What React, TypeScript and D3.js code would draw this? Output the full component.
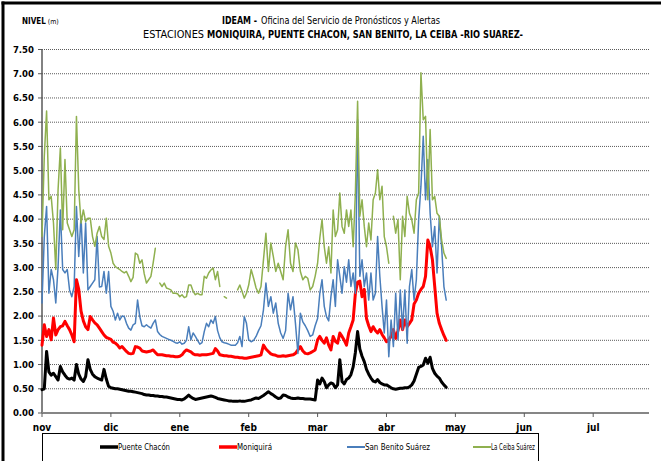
import React from "react";
import * as d3 from "d3";

// ---- data ----
const fechaInicio = new Date(2010, 10, 1); // 1 nov
const meses = ["nov", "dic", "ene", "feb", "mar", "abr", "may", "jun", "jul"];
const nivelTicks = [0, 0.5, 1, 1.5, 2, 2.5, 3, 3.5, 4, 4.5, 5, 5.5, 6, 6.5, 7, 7.5];

const puenteChacon = [
  0.48, 0.50, 1.27, 0.85, 0.78, 0.82, 0.75, 0.68, 0.96, 0.85,
  0.78, 0.72, 0.70, 0.72, 0.68, 1.00, 0.80, 0.70, 0.65, 0.75,
  1.10, 0.90, 0.80, 0.75, 0.72, 0.70, 0.68, 0.90, 0.70, 0.55,
  0.52, 0.51, 0.50, 0.50, 0.49, 0.48, 0.47, 0.46, 0.45, 0.45,
  0.44, 0.43, 0.42, 0.41, 0.40, 0.38, 0.37, 0.37, 0.36, 0.36,
  0.35, 0.35, 0.34, 0.34, 0.33, 0.33, 0.32, 0.31, 0.30, 0.29,
  0.28, 0.28, 0.27, 0.29, 0.33, 0.37, 0.33, 0.30, 0.28, 0.29,
  0.30, 0.31, 0.32, 0.33, 0.34, 0.35, 0.34, 0.32, 0.30, 0.29,
  0.28, 0.27, 0.26, 0.25, 0.25, 0.24, 0.24, 0.24, 0.25, 0.24,
  0.24, 0.25, 0.26, 0.27, 0.29, 0.31, 0.30, 0.33, 0.36, 0.40,
  0.44, 0.40, 0.37, 0.33, 0.30, 0.31, 0.37, 0.36, 0.33, 0.31,
  0.30, 0.30, 0.31, 0.30, 0.30, 0.29, 0.29, 0.29, 0.28, 0.27,
  0.68, 0.60, 0.72, 0.65, 0.52, 0.58, 0.62, 0.60, 0.52, 0.58,
  1.10, 0.65, 0.60, 0.69, 0.72, 0.79, 0.95, 1.25, 1.68, 1.32,
  1.17, 1.06, 0.90, 0.80, 0.72, 0.66, 0.64, 0.69, 0.63, 0.60,
  0.58, 0.58, 0.55, 0.52, 0.50, 0.49, 0.50, 0.51, 0.51, 0.52,
  0.52, 0.54, 0.58, 0.66, 0.80, 0.94, 0.96, 0.99, 1.13, 1.03,
  1.15, 0.92, 0.82, 0.76, 0.72, 0.64, 0.58, 0.53,
];

const moniquira = [
  1.40, 1.82, 1.58, 1.72, 1.51, 1.96, 1.61, 1.72, 1.78, 1.80,
  1.89, 1.80, 1.72, 1.61, 1.47, 2.75, 2.55, 2.10, 1.90, 1.78,
  1.72, 1.99, 1.92, 1.86, 1.82, 1.75, 1.68, 1.61, 1.56, 1.54,
  1.52, 1.46, 1.44, 1.40, 1.34, 1.37, 1.32, 1.27, 1.23, 1.22,
  1.23, 1.37, 1.36, 1.34, 1.28, 1.27, 1.26, 1.27, 1.28, 1.30,
  1.25, 1.20, 1.20, 1.20, 1.19, 1.18, 1.18, 1.17, 1.17, 1.16,
  1.16, 1.17, 1.20, 1.26, 1.30, 1.28, 1.26, 1.22, 1.20, 1.20,
  1.19, 1.20, 1.20, 1.20, 1.21, 1.22, 1.23, 1.33, 1.28, 1.20,
  1.19, 1.18, 1.18, 1.17, 1.17, 1.16, 1.15, 1.15, 1.14, 1.14,
  1.13, 1.13, 1.14, 1.15, 1.16, 1.17, 1.18, 1.20, 1.40, 1.32,
  1.27, 1.22, 1.20, 1.19, 1.17, 1.17, 1.18, 1.17, 1.18, 1.19,
  1.20, 1.23, 1.30, 1.37, 1.28, 1.23, 1.22, 1.24, 1.27, 1.30,
  1.51, 1.58, 1.50, 1.44, 1.55, 1.40, 1.30, 1.58, 1.48, 1.44,
  1.65, 1.58, 1.50, 1.40, 1.65, 1.78, 1.92, 2.47, 2.70, 2.72,
  2.40, 2.55, 1.95, 1.80, 1.68, 1.78, 1.70, 1.65, 1.72, 1.62,
  1.55, 1.47, 1.51, 1.58, 1.72, 1.54, 1.70, 1.92, 1.72, 1.92,
  1.78, 1.85, 1.92, 2.25, 2.33, 2.47, 2.55, 2.61, 2.82, 3.57,
  3.43, 3.16, 2.61, 2.06, 1.85, 1.72, 1.60, 1.50,
];

const sanBenito = [
  2.27, 3.64, 4.26, 2.47, 2.96, 2.75, 2.27, 3.02, 4.19, 2.96,
  2.89, 2.96, 2.54, 2.40, 2.61, 4.26, 3.23, 4.06, 2.89, 3.92,
  2.54, 2.61, 2.68, 2.75, 3.64, 2.60, 2.61, 2.92, 2.47, 2.92,
  2.20, 2.10, 1.92, 2.06, 1.92, 2.00, 1.99, 1.85, 1.75, 1.71,
  1.82, 1.85, 2.33, 1.99, 1.80, 1.78, 1.82, 1.78, 1.75, 1.85,
  1.92, 1.68, 1.62, 1.58, 1.56, 1.54, 1.52, 1.50, 1.48, 1.45,
  1.44, 1.47, 1.42, 1.44, 1.50, 1.78, 1.51, 1.65, 1.58, 1.50,
  1.42, 1.45, 1.68, 1.85, 1.78, 1.92, 1.85, 1.99, 1.70, 1.55,
  1.47, 1.45, 1.44, 1.42, 1.40, 1.40, 1.40, 1.45, 1.58, 1.37,
  1.99, 1.85, 1.51, 1.47, 1.50, 1.58, 1.70, 1.80, 2.13, 2.68,
  2.20, 2.40, 2.06, 2.27, 1.85, 1.65, 1.54, 1.70, 2.47, 2.13,
  2.40, 1.85, 1.23, 2.06, 1.88, 1.80, 1.70, 1.58, 1.61, 1.80,
  1.95, 2.47, 2.75, 2.20, 1.99, 1.90, 2.40, 2.75, 2.20, 3.16,
  2.82, 2.47, 3.02, 2.70, 3.16, 2.61, 2.89, 2.47, 6.05, 2.82,
  3.16, 2.61, 2.89, 2.33, 2.89, 2.33, 2.47, 3.64, 2.82, 2.20,
  1.65, 2.33, 1.16, 1.92, 1.37, 2.47, 1.51, 2.54, 1.72, 2.54,
  1.44, 2.61, 2.96, 2.33, 2.75, 3.99, 4.68, 5.71, 4.40, 5.23,
  4.12, 3.43, 3.85, 2.89, 4.06, 3.43, 2.61, 2.33,
];

const laCeiba = [
  3.64, 5.30, 6.23, 4.40, 4.47, 3.92, 2.96, 4.61, 5.47, 3.78,
  5.23, 3.92, 3.78, 3.64, 3.78, 6.12, 4.61, 3.92, 4.19, 3.95,
  4.02, 4.02, 3.64, 3.44, 3.71, 3.85, 3.64, 3.58, 4.02, 3.44,
  3.30, 3.09, 3.02, 2.99, 2.96, 2.92, 2.89, 2.92, 2.82, 2.71,
  2.80, 3.30, 3.27, 3.09, 3.16, 2.87, 2.68, 2.75, 2.82, 3.09,
  3.40, null, 2.68, 2.61, 2.68, 2.58, 2.56, 2.54, 2.47, 2.47,
  2.46, 2.40, 2.44, 2.38, 2.40, 2.64, 2.64, 2.51, 2.44, 2.47,
  2.44, 2.44, 2.82, 2.78, 2.89, 2.95, 2.99, 2.75, 2.92, 2.61,
  null, 2.40, 2.37, null, null, null, null, 2.54, 2.64, 2.51,
  2.37, 2.47, 2.64, 2.96, 2.78, 2.58, 2.47, 2.61, 3.16, 3.71,
  2.92, 3.51, 3.23, 2.92, 3.09, 2.92, 2.75, 3.44, 3.78, 3.09,
  2.92, 3.51, 3.37, 2.92, 2.75, 2.82, 2.78, 2.54, 2.61, 2.82,
  3.09, 3.61, 3.99, 3.43, 3.09, 3.43, 2.89, 4.19, 3.64, 3.78,
  4.54, 3.85, 3.71, 4.19, 3.85, 4.19, 3.43, 4.54, 6.43, 4.06,
  4.40, 3.85, 3.43, 3.92, 3.57, 4.40, 4.54, 5.02, 4.40, 4.68,
  3.64, 3.43, 3.09, null, 4.06, 3.71, 3.99, 2.75, 4.06, 3.64,
  4.47, 4.12, 3.99, 3.71, 4.40, 4.54, 7.02, 6.05, 6.12, 4.40,
  5.85, 4.40, 4.47, 4.12, 4.06, 3.57, 3.30, 3.19,
];

const series = [
  { nombre: "Puente Chacón", valores: puenteChacon, color: "#000000", ancho: 3 },
  { nombre: "Moniquirá", valores: moniquira, color: "#ff0000", ancho: 3 },
  { nombre: "San Benito  Suárez", valores: sanBenito, color: "#4a7ebb", ancho: 1.5 },
  { nombre: "La Ceiba  Suárez", valores: laCeiba, color: "#8fb04f", ancho: 1.5 },
];

// ---- helpers ----
function mesFraccion(i: number) {
  const d = d3.timeDay.offset(fechaInicio, i);
  const mi = (d.getFullYear() - fechaInicio.getFullYear()) * 12 + d.getMonth() - fechaInicio.getMonth();
  const dim = new Date(d.getFullYear(), d.getMonth() + 1, 0).getDate();
  return mi + (d.getDate() - 1) / dim;
}

const FONT = "'Liberation Sans Narrow', 'Arial Narrow', 'DejaVu Sans Condensed', 'Liberation Sans', sans-serif";

export default function App() {
  const W = 661, H = 461;
  const x = d3.scaleLinear().domain([0, 8.81]).range([42, 649]);
  const y = d3.scaleLinear().domain([0, 7.5]).range([413, 49.5]);

  const line = d3
    .line<number | null>()
    .defined((v) => v != null)
    .x((_, i) => x(mesFraccion(i)))
    .y((v) => y(v as number));

  const legendItems = [
    { lx: 100, tx: 118, w: 52 },
    { lx: 219, tx: 237, w: 35 },
    { lx: 347, tx: 365, w: 65 },
    { lx: 473, tx: 491, w: 44 },
  ];

  const fit = (w: number) => ({ textLength: w, lengthAdjust: "spacingAndGlyphs" as const });

  return (
    <svg width={W} height={H} style={{ position: "absolute", left: 0, top: 0, background: "#fff" }} fontFamily={FONT}>
      <rect x={0} y={0} width={W} height={H} fill="#fff" />
      {/* outer frame */}
      <line x1={3} y1={1.5} x2={3} y2={H} stroke="#000" strokeWidth={3} />
      <line x1={1.5} y1={3} x2={W} y2={3} stroke="#000" strokeWidth={3} />

      {/* titles */}
      <text x={22} y={24} fontSize={8}>
        <tspan fontWeight="bold">NIVEL</tspan>
        <tspan fontSize={7}> (m)</tspan>
      </text>

      <text x={222} y={24} fontSize={10.5} fontWeight="bold" {...fit(35)}>IDEAM -</text>
      <text x={261} y={24} fontSize={10.5} {...fit(179)}>Oficina del Servicio de Pronósticos y Alertas</text>

      <text x={143} y={38} fontSize={10.5} {...fit(61)}>ESTACIONES</text>
      <text x={207} y={38} fontSize={10.5} fontWeight="bold" {...fit(316)}>MONIQUIRA, PUENTE CHACON, SAN BENITO, LA CEIBA  -RIO SUAREZ-</text>

      {/* gridlines */}
      {nivelTicks.filter((t) => t > 0).map((t) => (
        <line key={"g" + t} x1={x(0)} x2={x(8.81)} y1={y(t)} y2={y(t)} stroke="#5a5a5a" strokeWidth={1} strokeDasharray="1 1" />
      ))}

      {/* y axis */}
      <line x1={x(0)} x2={x(0)} y1={y(7.5)} y2={y(0)} stroke="#595959" strokeWidth={1.5} />
      {nivelTicks.map((t) => (
        <g key={"y" + t}>
          <line x1={x(0) - 4} x2={x(0)} y1={y(t)} y2={y(t)} stroke="#595959" strokeWidth={1} />
          <text x={34} y={y(t)} dy="0.35em" textAnchor="end" fontSize={9.5} fontWeight="bold">
            {t.toFixed(2)}
          </text>
        </g>
      ))}

      {/* x axis */}
      <line x1={x(0)} x2={x(8.81)} y1={y(0)} y2={y(0)} stroke="#868686" strokeWidth={2} />
      {meses.map((m, i) => (
        <g key={m}>
          <line x1={x(i)} x2={x(i)} y1={y(0)} y2={y(0) + 4} stroke="#595959" strokeWidth={1} />
          <text x={x(i)} y={431} textAnchor="middle" fontSize={10} fontWeight="bold">
            {m}
          </text>
        </g>
      ))}

      {/* series */}
      {series.map((s) => (
        <path key={s.nombre} d={line(s.valores) || ""} fill="none" stroke={s.color} strokeWidth={s.ancho} strokeLinejoin="round" strokeLinecap="round" />
      ))}

      {/* legend */}
      <rect x={42.5} y={433.5} width={496} height={40} fill="#fff" stroke="#000" strokeWidth={1} />
      {series.map((s, i) => (
        <g key={"l" + s.nombre}>
          <line x1={legendItems[i].lx} x2={legendItems[i].tx} y1={447} y2={447} stroke={s.color} strokeWidth={s.ancho + 0.5} />
          <text x={legendItems[i].tx} y={447} dy="0.35em" fontSize={8.5} {...fit(legendItems[i].w)}>
            {s.nombre}
          </text>
        </g>
      ))}
    </svg>
  );
}
